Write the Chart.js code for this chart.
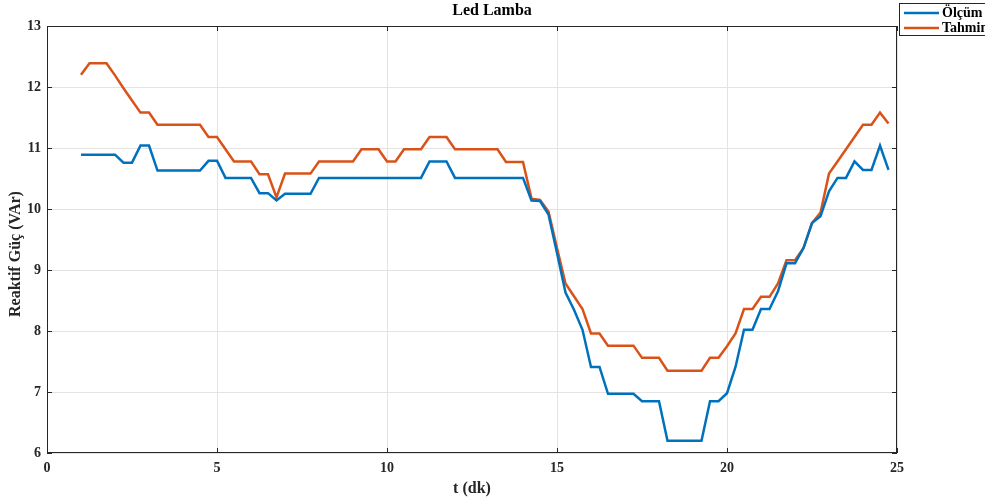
<!DOCTYPE html>
<html>
<head>
<meta charset="utf-8">
<title>Led Lamba</title>
<script src="https://cdn.jsdelivr.net/npm/chart.js@4.4.1/dist/chart.umd.min.js"></script>
<style>
    html, body { margin: 0; padding: 0; background: #fff; }
    #wrap { width: 985px; height: 500px; }
</style>
</head>
<body>
<div id="wrap"><canvas id="chart" width="985" height="500"></canvas></div>
<script>
// time (minutes)
const timeMin = [
    1.00, 1.25, 1.50, 1.75, 2.00, 2.25, 2.50, 2.75, 3.00, 3.25, 3.50, 3.75,
    4.00, 4.25, 4.50, 4.75, 5.00, 5.25, 5.50, 5.75, 6.00, 6.25, 6.50, 6.75,
    7.00, 7.25, 7.50, 7.75, 8.00, 8.25, 8.50, 8.75, 9.00, 9.25, 9.50, 9.75,
    10.00, 10.25, 10.50, 10.75, 11.00, 11.25, 11.50, 11.75, 12.00, 12.25, 12.50, 12.75,
    13.00, 13.25, 13.50, 13.75, 14.00, 14.25, 14.50, 14.75, 15.00, 15.25, 15.50, 15.75,
    16.00, 16.25, 16.50, 16.75, 17.00, 17.25, 17.50, 17.75, 18.00, 18.25, 18.50, 18.75,
    19.00, 19.25, 19.50, 19.75, 20.00, 20.25, 20.50, 20.75, 21.00, 21.25, 21.50, 21.75,
    22.00, 22.25, 22.50, 22.75, 23.00, 23.25, 23.50, 23.75, 24.00, 24.25, 24.50, 24.75
];

// measured reactive power (VAr)
const olcum = [
    10.89, 10.89, 10.89, 10.89, 10.89, 10.76, 10.76, 11.04, 11.04, 10.63, 10.63, 10.63,
    10.63, 10.63, 10.63, 10.79, 10.79, 10.51, 10.51, 10.51, 10.51, 10.26, 10.26, 10.14,
    10.25, 10.25, 10.25, 10.25, 10.51, 10.51, 10.51, 10.51, 10.51, 10.51, 10.51, 10.51,
    10.51, 10.51, 10.51, 10.51, 10.51, 10.78, 10.78, 10.78, 10.51, 10.51, 10.51, 10.51,
    10.51, 10.51, 10.51, 10.51, 10.51, 10.14, 10.13, 9.91, 9.28, 8.63, 8.35, 8.02,
    7.41, 7.41, 6.97, 6.97, 6.97, 6.97, 6.85, 6.85, 6.85, 6.20, 6.20, 6.20,
    6.20, 6.20, 6.85, 6.85, 6.98, 7.41, 8.02, 8.02, 8.36, 8.36, 8.65, 9.11,
    9.11, 9.36, 9.77, 9.88, 10.29, 10.51, 10.51, 10.78, 10.64, 10.64, 11.04, 10.64
];

// predicted reactive power (VAr)
const tahmin = [
    12.20, 12.39, 12.39, 12.39, 12.19, 11.98, 11.78, 11.58, 11.58, 11.38, 11.38, 11.38,
    11.38, 11.38, 11.38, 11.18, 11.18, 10.98, 10.78, 10.78, 10.78, 10.57, 10.57, 10.19,
    10.58, 10.58, 10.58, 10.58, 10.78, 10.78, 10.78, 10.78, 10.78, 10.98, 10.98, 10.98,
    10.78, 10.78, 10.98, 10.98, 10.98, 11.18, 11.18, 11.18, 10.98, 10.98, 10.98, 10.98,
    10.98, 10.98, 10.77, 10.77, 10.77, 10.17, 10.15, 9.96, 9.36, 8.78, 8.57, 8.36,
    7.96, 7.96, 7.76, 7.76, 7.76, 7.76, 7.56, 7.56, 7.56, 7.35, 7.35, 7.35,
    7.35, 7.35, 7.56, 7.56, 7.75, 7.96, 8.36, 8.36, 8.56, 8.56, 8.78, 9.16,
    9.16, 9.36, 9.77, 9.94, 10.58, 10.78, 10.98, 11.18, 11.38, 11.38, 11.58, 11.40
];

const xTicks = [0, 5, 10, 15, 20, 25];
const yTicks = [6, 7, 8, 9, 10, 11, 12, 13];

const chartTitle = 'Led Lamba';
const yTitle = 'Reaktif Güç (VAr)';

const SERIF = '"Liberation Serif", "Times New Roman", serif';
const AXIS_COLOR = '#262626';

function toPoints(ys) {
    return timeMin.map((t, i) => ({ x: t, y: ys[i] }));
}

// MATLAB-like box with inward ticks on all four sides
const boxPlugin = {
    id: 'boxPlugin',
    afterDatasetsDraw(chart) {
        const { ctx, chartArea: a, scales } = chart;
        ctx.save();
        ctx.strokeStyle = AXIS_COLOR;
        ctx.lineWidth = 1;
        ctx.strokeRect(a.left + 0.5, a.top + 0.5, a.right - a.left - 1, a.bottom - a.top - 1);
        const len = 5;
        ctx.beginPath();
        xTicks.forEach(v => {
            const px = Math.round(scales.x.getPixelForValue(v)) + 0.5;
            ctx.moveTo(px, a.bottom); ctx.lineTo(px, a.bottom - len);
            ctx.moveTo(px, a.top); ctx.lineTo(px, a.top + len);
        });
        yTicks.forEach(v => {
            const py = Math.round(scales.y.getPixelForValue(v)) + 0.5;
            ctx.moveTo(a.left, py); ctx.lineTo(a.left + len, py);
            ctx.moveTo(a.right, py); ctx.lineTo(a.right - len, py);
        });
        ctx.stroke();
        ctx.restore();
    }
};

// title and y-axis title, placed like the MATLAB figure
const textPlugin = {
    id: 'textPlugin',
    afterDraw(chart) {
        const { ctx } = chart;
        ctx.save();
        ctx.fillStyle = '#000';
        ctx.textAlign = 'center';
        ctx.textBaseline = 'middle';
        ctx.font = 'bold 16px ' + SERIF;
        ctx.fillText(chartTitle, 492, 11);

        ctx.fillStyle = AXIS_COLOR;
        ctx.translate(16, 254);
        ctx.rotate(-Math.PI / 2);
        ctx.font = 'bold 16px ' + SERIF;
        ctx.fillText(yTitle, 0, 0);
        ctx.restore();
    }
};

// legend box sitting right of the plot, partly off the canvas
const legendPlugin = {
    id: 'legendPlugin',
    afterDraw(chart) {
        const { ctx } = chart;
        const x0 = chart.chartArea.right + 2;
        const y0 = 3;
        ctx.save();
        ctx.fillStyle = '#fff';
        ctx.fillRect(x0, y0, 120, 32);
        ctx.strokeStyle = AXIS_COLOR;
        ctx.lineWidth = 1;
        ctx.strokeRect(x0 + 0.5, y0 + 0.5, 120, 32);
        ctx.font = 'bold 14px ' + SERIF;
        ctx.textBaseline = 'middle';
        chart.data.datasets.forEach((ds, i) => {
            const y = y0 + 10 + i * 15;
            ctx.strokeStyle = ds.borderColor;
            ctx.lineWidth = 2.5;
            ctx.beginPath();
            ctx.moveTo(x0 + 5, y);
            ctx.lineTo(x0 + 40, y);
            ctx.stroke();
            ctx.fillStyle = '#000';
            ctx.fillText(ds.label, x0 + 43, y);
        });
        ctx.restore();
    }
};

const chart = new Chart(document.getElementById('chart'), {
    type: 'line',
    data: {
        datasets: [
            {
                label: 'Ölçüm',
                data: toPoints(olcum),
                borderColor: '#0072BD',
                backgroundColor: '#0072BD',
                borderWidth: 2.5,
                pointRadius: 0,
                tension: 0
            },
            {
                label: 'Tahmin',
                data: toPoints(tahmin),
                borderColor: '#D95319',
                backgroundColor: '#D95319',
                borderWidth: 2.5,
                pointRadius: 0,
                tension: 0
            }
        ]
    },
    options: {
        responsive: false,
        animation: false,
        layout: { padding: { top: 26, right: 88, bottom: 0, left: 0 } },
        plugins: {
            legend: { display: false },
            tooltip: { enabled: false },
            title: { display: false }
        },
        scales: {
            x: {
                type: 'linear',
                min: 0,
                max: 25,
                afterBuildTicks: scale => { scale.ticks = xTicks.map(v => ({ value: v })); },
                afterFit: scale => { scale.height = 47; },
                grid: { color: '#e3e3e3', drawTicks: false },
                border: { display: false },
                ticks: {
                    color: AXIS_COLOR,
                    padding: 7,
                    maxRotation: 0,
                    font: { family: SERIF, size: 14, weight: 'bold' }
                },
                title: {
                    display: true,
                    text: 't (dk)',
                    color: AXIS_COLOR,
                    font: { family: SERIF, size: 16, weight: 'bold' },
                    padding: { top: 0, bottom: 2 }
                }
            },
            y: {
                min: 6,
                max: 13,
                afterBuildTicks: scale => { scale.ticks = yTicks.map(v => ({ value: v })); },
                afterFit: scale => { scale.width = 47; },
                grid: { color: '#e3e3e3', drawTicks: false },
                border: { display: false },
                ticks: {
                    color: AXIS_COLOR,
                    padding: 6,
                    font: { family: SERIF, size: 14, weight: 'bold' }
                },
                title: { display: false }
            }
        }
    },
    plugins: [boxPlugin, textPlugin, legendPlugin]
});
</script>
</body>
</html>
